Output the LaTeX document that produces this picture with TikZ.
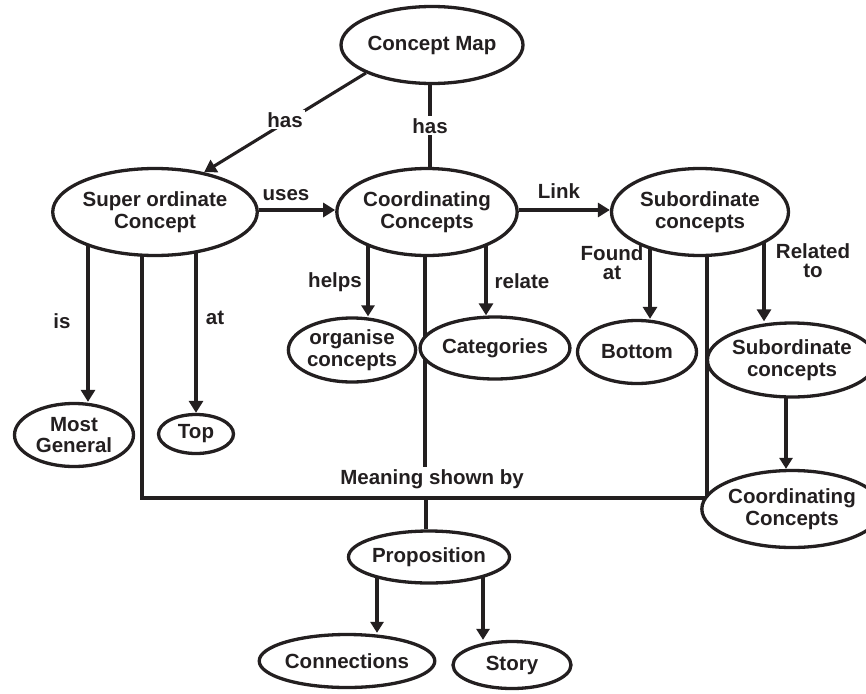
\documentclass[tikz,border=0pt]{standalone}
\usepackage{fontspec}
\setmainfont{Liberation Sans}
\usetikzlibrary{arrows.meta,shapes.geometric,backgrounds}
\definecolor{ink}{HTML}{231F20}
\begin{document}
\begin{tikzpicture}[x=1pt,y=-1pt,
  every node/.style={font=\fontsize{20.5}{21.5}\selectfont\bfseries, text=ink},
  concept/.style={ellipse, draw=ink, line width=3.3pt, fill=white, inner sep=0pt, align=center},
  link/.style={draw=ink, line width=3.1pt},
  thicklink/.style={draw=ink, line width=3.9pt},
  arr/.style={link, -{Triangle[length=12pt,width=14pt]}},
  thickarr/.style={thicklink, -{Triangle[length=11pt,width=13pt]}},
  lbl/.style={anchor=base, align=center, inner sep=2pt, font=\fontsize{20.5}{19}\selectfont\bfseries},
  cutlbl/.style={lbl, fill=white},
]
\useasboundingbox (0,0) rectangle (866,693);

% concept nodes
\node[concept, minimum width=139pt, minimum height=77pt] (cm)   at (432,45)  {Concept Map};
\node[concept, minimum width=177pt, minimum height=87pt] (sup)  at (155,212) {Super ordinate\\Concept};
\node[concept, minimum width=176pt, minimum height=87pt] (co)   at (427,212) {Coordinating\\Concepts};
\node[concept, minimum width=177pt, minimum height=87pt] (sub)  at (700,212) {Subordinate\\concepts};
\node[concept, minimum width=119pt, minimum height=63pt] (mg)   at (74,435)  {Most\\General};
\node[concept, minimum width=75pt,  minimum height=39pt] (top)  at (196,434) {Top};
\node[concept, minimum width=120pt, minimum height=64pt] (org)  at (352,350) {organise\\concepts};
\node[concept, minimum width=121pt, minimum height=62pt] (cat)  at (495,348) {Categories};
\node[concept, minimum width=119pt, minimum height=63pt] (bot)  at (637,352) {Bottom};
\node[concept, minimum width=143pt, minimum height=74pt] (sub2) at (792,360) {Subordinate\\concepts};
\node[concept, minimum width=138pt, minimum height=77pt] (co2)  at (792,509) {Coordinating\\Concepts};
\node[concept, minimum width=141pt, minimum height=52pt] (prop) at (429,557) {Proposition};
\node[concept, minimum width=140pt, minimum height=53pt] (conn) at (347,661) {Connections};
\node[concept, minimum width=118pt, minimum height=47pt] (story) at (512,665) {Story};

% labels
\node[cutlbl] (lhas1) at (285,127) {has};
\node[cutlbl] (lhas2) at (430,133) {has};
\node[lbl] (luses)  at (286,200) {uses};
\node[lbl] (llink)  at (559,198) {Link};
\node[lbl] (lis)    at (62,328)  {is};
\node[lbl] (lat)    at (215,324) {at};
\node[lbl] (lhelps) at (335,287) {helps};
\node[lbl] (lrel)   at (522,288) {relate};
\node[lbl] (lfound) at (612,279) {Found\\at};
\node[lbl] (lrelto) at (813,277) {Related\\to};
\node[lbl] (mean)   at (432,484) {Meaning shown by};

\coordinate (bl) at (142,498);
\coordinate (br) at (707,498);
\coordinate (bm) at (426,498);

\begin{scope}[on background layer]
  \draw[arr] (cm.203) -- (sup.39);
  \draw[link] (cm.south -| lhas2) -- (co.north -| lhas2);
  \draw[arr] ([yshift=2pt]sup.east) -- ([yshift=2pt]co.west);
  \draw[arr] ([yshift=2pt]co.east) -- ([yshift=2pt]sub.west);
  \draw[arr] ([xshift=-67pt]sup.center) -- ([xshift=14pt]mg.north);
  \draw[arr] ([xshift=41pt]sup.center) -- (top.north);
  \draw[thickarr] ([xshift=-59pt]co.center) -- ([xshift=16pt]org.north);
  \draw[arr] ([xshift=59pt]co.center) -- ([xshift=-9pt]cat.north);
  \draw[arr] ([xshift=-50pt]sub.center) -- ([xshift=13pt]bot.north);
  \draw[arr] ([xshift=64pt]sub.center) -- ([xshift=-28pt]sub2.north);
  \draw[thickarr] ([xshift=-6pt]sub2.center) -- ([xshift=-6pt]co2.north);
  \draw[thicklink] ([xshift=-13pt]sup.center) -- (bl) -- (br) -- ([xshift=7pt]sub.center);
  \draw[link] ([xshift=-2pt]co.center) -- ([xshift=-2pt]co.center |- mean.north);
  \draw[link] (bm) -- (bm |- prop.north);
  \draw[thickarr] ([xshift=-52pt]prop.center) -- ([xshift=30pt]conn.north);
  \draw[thickarr] ([xshift=54pt]prop.center) -- ([xshift=-29pt]story.north);
\end{scope}
\end{tikzpicture}
\end{document}
